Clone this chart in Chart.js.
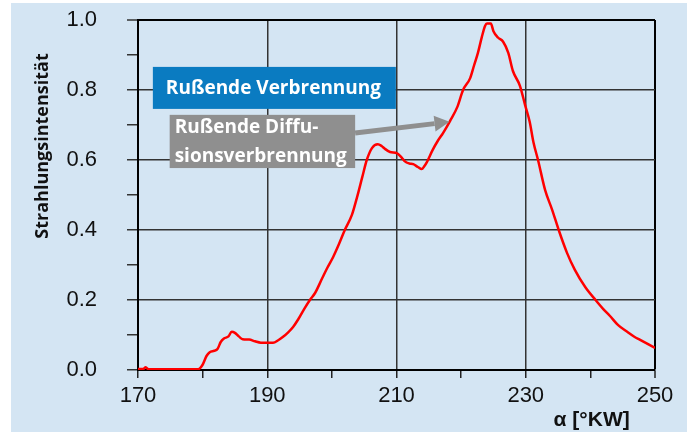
<!DOCTYPE html>
<html>
<head>
<meta charset="utf-8">
<script src="https://cdn.jsdelivr.net/npm/chart.js@4.4.1/dist/chart.umd.min.js"></script>
<style>
  html, body { margin: 0; padding: 0; background: #ffffff; }
  #wrap { width: 696px; height: 432px; position: relative; }
</style>
</head>
<body>
<div id="wrap"><canvas id="chart" width="696" height="432"></canvas></div>
<script>
// Crank angle (°KW) and relative radiation intensity
const alpha = [170, 170.8, 171.2, 171.6, 179.3, 180, 180.6, 181.1, 181.8, 182.3, 182.8, 183.3, 184, 184.5, 185, 185.6, 186.2, 187.2, 188.1, 189, 190, 190.9, 191.7, 192.4, 193.2, 194, 194.8, 195.8, 196.6, 197.4, 198.5, 199.3, 200.2, 201.1, 202, 203.1, 203.9, 204.7, 205.4, 206.2, 207.1, 207.7, 208.2, 209, 210.1, 210.8, 211.3, 212, 212.6, 213.3, 213.9, 214.3, 214.7, 215.6, 216.4, 217.2, 218.3, 219.4, 220.3, 221.4, 222, 222.6, 223.2, 223.7, 224, 224.6, 225, 225.7, 226.5, 227.3, 228, 229.1, 229.9, 230.6, 231.2, 231.9, 233, 234.1, 235.1, 236.4, 237.6, 239.2, 240.8, 242, 243, 244.3, 245.7, 246.8, 247.7, 249, 250];
const intensity = [0.003, 0.003, 0.008, 0.002, 0.002, 0.015, 0.04, 0.051, 0.055, 0.06, 0.08, 0.09, 0.096, 0.109, 0.106, 0.096, 0.088, 0.087, 0.082, 0.078, 0.078, 0.078, 0.085, 0.094, 0.107, 0.123, 0.145, 0.177, 0.2, 0.22, 0.262, 0.292, 0.323, 0.36, 0.4, 0.443, 0.494, 0.551, 0.6, 0.634, 0.645, 0.64, 0.632, 0.623, 0.619, 0.607, 0.596, 0.59, 0.588, 0.58, 0.574, 0.582, 0.594, 0.629, 0.655, 0.677, 0.712, 0.751, 0.8, 0.834, 0.87, 0.906, 0.951, 0.983, 0.99, 0.99, 0.968, 0.95, 0.938, 0.906, 0.855, 0.812, 0.757, 0.71, 0.65, 0.6, 0.514, 0.457, 0.4, 0.334, 0.286, 0.237, 0.2, 0.174, 0.155, 0.128, 0.109, 0.095, 0.086, 0.073, 0.063];

const xMajorLines = [190, 210, 230];
const yMajorLines = [0.2, 0.4, 0.6, 0.8];

const yTitle = 'Strahlungsintensität';
const xTitle = 'α [°KW]';
const boxBlueText = 'Rußende Verbrennung';
const boxGrayLines = ['Rußende Diffu-', 'sionsverbrennung'];

const near = (a, b) => Math.abs(a - b) < 1e-6;

// light blue panel behind the whole figure
const panelBg = {
  id: 'panelBg',
  beforeDraw(chart) {
    const c = chart.ctx;
    c.save();
    c.fillStyle = '#d4e5f3';
    c.fillRect(11, 3, 676, 429);
    c.restore();
  }
};

// axis titles + the two label boxes with arrow
const overlays = {
  id: 'overlays',
  afterDatasetsDraw(chart) {
    const c = chart.ctx;
    const xs = chart.scales.x, ys = chart.scales.y;
    c.save();

    // y title
    c.translate(43, ys.getPixelForValue(0.64));
    c.rotate(-Math.PI / 2);
    c.fillStyle = '#111';
    c.font = 'bold 18px "Open Sans"';
    c.textAlign = 'center';
    c.textBaseline = 'middle';
    c.fillText(yTitle, 0, 0);
    c.setTransform(1, 0, 0, 1, 0, 0);

    // x title
    c.font = 'bold 21px "Liberation Sans"';
    c.textAlign = 'center';
    c.textBaseline = 'middle';
    c.fillText(xTitle, xs.getPixelForValue(240.2), 420);

    // arrow from gray box to the curve
    const ax0 = xs.getPixelForValue(203.6), ay0 = ys.getPixelForValue(0.677);
    const ax1 = xs.getPixelForValue(218.2), ay1 = ys.getPixelForValue(0.709);
    const ang = Math.atan2(ay1 - ay0, ax1 - ax0);
    const headLen = 15, headW = 8;
    const bx = ax1 - headLen * Math.cos(ang), by = ay1 - headLen * Math.sin(ang);
    c.strokeStyle = '#8f8f8f';
    c.lineWidth = 5;
    c.beginPath();
    c.moveTo(ax0, ay0);
    c.lineTo(bx, by);
    c.stroke();
    c.fillStyle = '#8f8f8f';
    c.beginPath();
    c.moveTo(ax1, ay1);
    c.lineTo(bx + headW * Math.sin(ang), by - headW * Math.cos(ang));
    c.lineTo(bx - headW * Math.sin(ang), by + headW * Math.cos(ang));
    c.closePath();
    c.fill();

    // blue box
    const bl = xs.getPixelForValue(172.3), br = xs.getPixelForValue(209.9);
    const bt = ys.getPixelForValue(0.866), bb = ys.getPixelForValue(0.746);
    c.fillStyle = '#0a7bc1';
    c.fillRect(bl, bt, br - bl, bb - bt);
    c.fillStyle = '#ffffff';
    c.font = 'bold 19px "Open Sans"';
    c.textAlign = 'left';
    c.textBaseline = 'middle';
    c.fillText(boxBlueText, bl + 13, (bt + bb) / 2 + 1);

    // gray box
    const gl = xs.getPixelForValue(174.9), gr = xs.getPixelForValue(203.6);
    const gt = ys.getPixelForValue(0.729), gb = ys.getPixelForValue(0.577);
    c.fillStyle = '#8f8f8f';
    c.fillRect(gl, gt, gr - gl, gb - gt);
    c.fillStyle = '#ffffff';
    c.fillText(boxGrayLines[0], gl + 5, gt + 13);
    c.fillText(boxGrayLines[1], gl + 5, gt + 42);

    c.restore();
  }
};

new Chart(document.getElementById('chart'), {
  type: 'line',
  data: {
    datasets: [{
      data: alpha.map((a, i) => ({ x: a, y: intensity[i] })),
      borderColor: '#ff0000',
      borderWidth: 2.5,
      pointRadius: 0,
      cubicInterpolationMode: 'monotone',
      fill: false
    }]
  },
  options: {
    responsive: false,
    animation: false,
    layout: { padding: { top: 0, right: 41, left: 0, bottom: 0 } },
    plugins: { legend: { display: false }, tooltip: { enabled: false } },
    scales: {
      x: {
        type: 'linear',
        min: 170,
        max: 250,
        afterFit: s => { s.height = 62; },
        ticks: {
          stepSize: 10,
          autoSkip: false,
          maxRotation: 0,
          padding: 5,
          color: '#111',
          font: { family: '"Liberation Sans"', size: 22 },
          callback: v => ((v - 170) % 20 === 0 ? String(v) : '')
        },
        grid: {
          color: ctx => {
            const v = ctx.tick ? ctx.tick.value : null;
            if (v === 250) return '#000';
            return xMajorLines.includes(v) ? '#333' : 'rgba(0,0,0,0)';
          },
          lineWidth: ctx => (ctx.tick && ctx.tick.value === 250 ? 2 : 1.5),
          tickColor: '#222',
          tickLength: 8,
          tickWidth: 1.5
        },
        border: { display: true, color: '#000', width: 2 }
      },
      y: {
        min: 0,
        max: 1,
        afterFit: s => { s.width = 138; s.paddingTop = 20; s.paddingBottom = 0; },
        ticks: {
          stepSize: 0.1,
          autoSkip: false,
          padding: 30,
          color: '#111',
          font: { family: '"Liberation Sans"', size: 22 },
          callback: v => (Math.round(v * 10) % 2 === 0 ? v.toFixed(1) : '')
        },
        grid: {
          color: ctx => {
            const v = ctx.tick ? ctx.tick.value : null;
            if (v !== null && near(v, 1)) return '#000';
            return v !== null && yMajorLines.some(m => near(m, v)) ? '#333' : 'rgba(0,0,0,0)';
          },
          lineWidth: ctx => (ctx.tick && near(ctx.tick.value, 1) ? 2 : 1.5),
          tickColor: '#333',
          tickLength: 11,
          tickWidth: 1.5
        },
        border: { display: true, color: '#000', width: 2 }
      }
    }
  },
  plugins: [panelBg, overlays]
});
</script>
</body>
</html>
